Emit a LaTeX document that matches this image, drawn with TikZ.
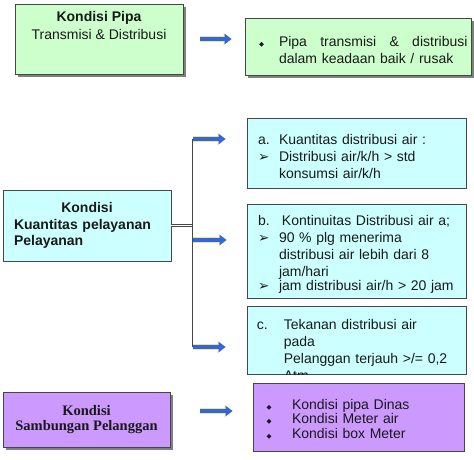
\documentclass[tikz,border=0pt]{standalone}
\usepackage{fontspec}
\setmainfont{Liberation Sans}
\newfontfamily\serifface{Liberation Serif}
\newfontfamily\symface{DejaVu Sans}
\usepackage{tikz}
\usetikzlibrary{arrows.meta, positioning, shadows}

\definecolor{pipagreen}{RGB}{204,255,204}
\definecolor{aircyan}{RGB}{204,255,255}
\definecolor{sambviolet}{RGB}{204,153,255}
\definecolor{framegray}{RGB}{70,70,70}
\definecolor{shadowgray}{RGB}{128,128,128}
\definecolor{flowblue}{RGB}{51,102,221}
\definecolor{flowyellow}{RGB}{238,232,130}

\newcommand{\diabullet}{{\symface\fontsize{6.5}{6.5}\selectfont ◆}}
\newcommand{\arrowbullet}{{\symface\fontsize{13.5}{13.5}\selectfont ➢}}
\newcommand{\boxitem}[3][21pt]{\par\noindent\makebox[#1][l]{#2}%
  \parbox[t]{\dimexpr\hsize-\leftskip-#1\relax}{\raggedright #3}\par}

\tikzstyle{panel} = [
  rectangle, draw=framegray, line width=0.8pt, inner sep=0pt,
  text=black!90, font=\fontsize{14}{17}\selectfont
]
\tikzstyle{pipabox} = [panel, fill=pipagreen,
  drop shadow={shadow xshift=3pt, shadow yshift=-3pt, fill=shadowgray, opacity=1}]
\tikzstyle{airbox} = [panel, fill=aircyan]
\tikzstyle{sambbox} = [panel, fill=sambviolet]
\tikzstyle{flow} = [
  line width=4.5pt, draw=flowblue, -{Triangle[length=7pt, width=10pt]},
  preaction={draw=flowyellow, line width=5.8pt, -{Triangle[length=8pt, width=12pt]}}
]
\tikzstyle{busline} = [draw=framegray, line width=0.8pt]

\begin{document}
\begin{tikzpicture}[x=1pt, y=-1pt]

  \path[use as bounding box, fill=white] (0,0) rectangle (474,459);

  % Kondisi pipa
  \node[pipabox, minimum width=168pt, minimum height=70pt] (pipa) at (99,39) {};
  \node[below=7.5pt of pipa.north, inner sep=0pt, align=center,
        font=\fontsize{14}{18}\selectfont, text=black!90] (pipa-text)
    {\textbf{Kondisi Pipa}\\Transmisi \& Distribusi};

  \node[pipabox, minimum width=226pt, minimum height=57pt, text width=220pt, align=left] (pipaket) at (358,46.5) {
    \leftskip=11pt
    \boxitem[20pt]{\diabullet}{\makebox[188.5pt][s]{Pipa\hfill transmisi\hfill \&\hfill distribusi}\\dalam keadaan baik / rusak}
  };

  % Kondisi kuantitas pelayanan
  \node[airbox, minimum width=168pt, minimum height=71pt, text width=146pt, align=left,
        font=\fontsize{14}{16.5}\selectfont\bfseries] (kuantitas) at (87,225.5) {
    {\centering Kondisi\par}
    Kuantitas pelayanan\\Pelayanan
  };

  \node[airbox, minimum width=219pt, minimum height=70pt, text width=213pt, align=left] (kuanta) at (356.5,153) {
    \leftskip=8pt
    \boxitem{a.}{Kuantitas distribusi air :}
    \boxitem{\arrowbullet}{Distribusi air/k/h > std\\konsumsi air/k/h}
  };

  \node[airbox, minimum width=219pt, minimum height=94pt, text width=213pt, align=left] (kontinuitas) at (356.5,251) {
    \leftskip=8pt
    \boxitem{b.}{\hspace{3pt}Kontinuitas Distribusi air a;}
    \boxitem{\arrowbullet}{90 \% plg menerima\\distribusi air lebih dari 8\\jam/hari}
    \boxitem{\arrowbullet}{jam distribusi air/h > 20 jam}
  };

  \node[airbox, minimum width=219pt, minimum height=68pt] (tekanan) at (356.5,340) {};
  \begin{scope}
    \clip (tekanan.south west) rectangle (tekanan.north east);
    \node[anchor=north west, inner sep=0pt, text width=205pt, align=left,
          font=\fontsize{14}{17}\selectfont, text=black!90] (tekanan-text)
      at ([xshift=10pt, yshift=-7pt]tekanan.north west) {
      \boxitem[27pt]{c.}{Tekanan distribusi air\\pada\\Pelanggan terjauh >/= 0,2\\Atm}
    };
  \end{scope}

  % Kondisi sambungan pelanggan
  \node[sambbox, drop shadow={shadow xshift=3pt, shadow yshift=-3pt, fill=shadowgray, opacity=1},
        minimum width=167pt, minimum height=55pt, align=center,
        font=\fontsize{14.5}{15}\serifface\bfseries] (sambungan) at (86.5,419.5)
    {Kondisi\\Sambungan Pelanggan};

  \node[sambbox, minimum width=211pt, minimum height=68pt, text width=205pt, align=left,
        font=\fontsize{14}{14.5}\selectfont] (sambket) at (358.5,417) {
    \leftskip=10.5pt
    \boxitem[25.5pt]{\diabullet}{Kondisi pipa Dinas}
    \boxitem[25.5pt]{\diabullet}{Kondisi Meter air}
    \boxitem[25.5pt]{\diabullet}{Kondisi box Meter}
  };

  % Connectors
  \coordinate (bus-a) at (192,139);
  \coordinate (bus-b) at (192,240);
  \coordinate (bus-c) at (192,347);
  \coordinate (samb-out) at ([yshift=8.5pt]sambungan.east);

  \draw[busline] (bus-a) -- (bus-c);
  \draw[busline, line width=0.7pt, double, double distance=1.5pt] (kuantitas.east) -- (kuantitas.east -| bus-a);

  \draw[flow, shorten <=17pt, shorten >=13pt] (pipa.east) -- (pipa.east -| pipaket.west);
  \draw[flow, shorten <=1pt, shorten >=21pt] (bus-a) -- (bus-a -| kuanta.west);
  \draw[flow, shorten <=1pt, shorten >=20pt] (bus-b) -- (bus-b -| kontinuitas.west);
  \draw[flow, shorten <=1pt, shorten >=21pt] (bus-c) -- (bus-c -| tekanan.west);
  \draw[flow, shorten <=30pt, shorten >=20pt] (samb-out) -- (samb-out -| sambket.west);

\end{tikzpicture}
\end{document}
